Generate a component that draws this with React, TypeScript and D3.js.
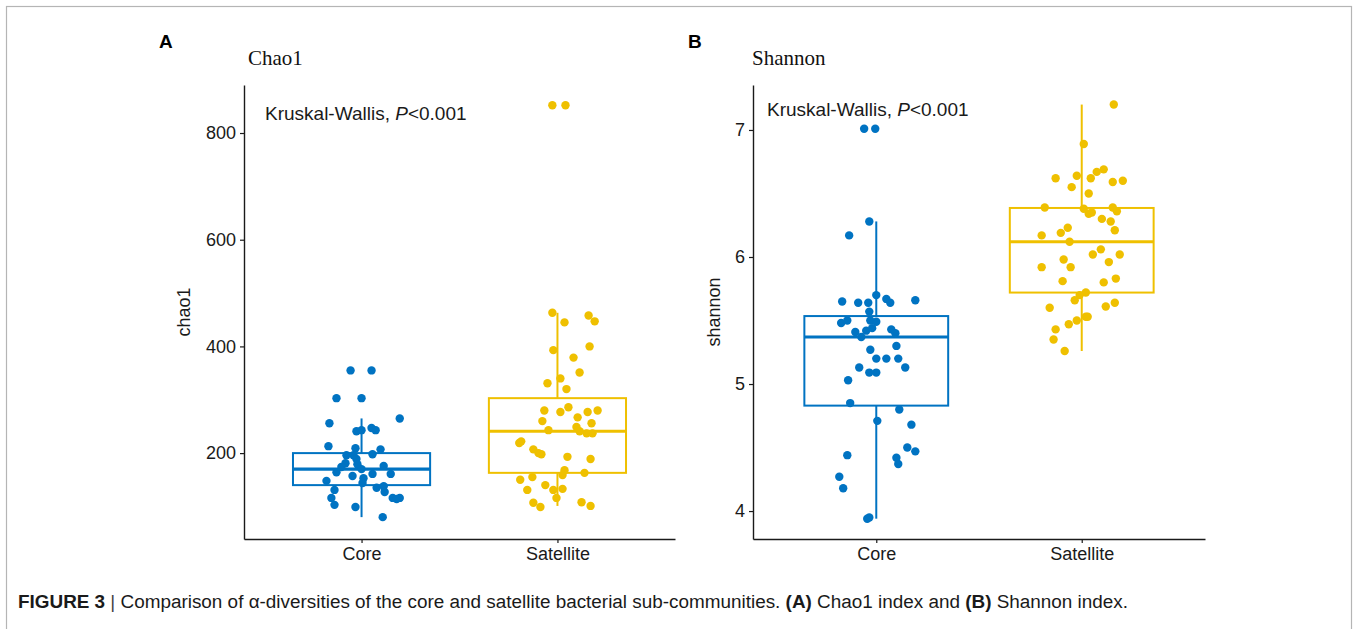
import { axisBottom, axisLeft, scaleLinear, select } from 'd3';
import { useEffect, useRef } from 'react';

const GROUPS = ['Core', 'Satellite'];
const BLUE = '#0073C2';
const YELLOW = '#EFC000';
const INK = '#1a1a1a';
const SANS = '"Liberation Sans", Arial, Helvetica, sans-serif';
const NARROW = '"Liberation Sans Narrow", "Arial Narrow", "Liberation Sans", Arial, sans-serif';
const SERIF = '"Liberation Serif", "Times New Roman", serif';

// Chao1 values, with horizontal jitter (in category units)
const chao1Core = [
  355, 355, 303, 303, 256, 265, 241, 243, 247, 243, 213, 209, 207, 196, 196, 198, 189, 181, 179, 174,
  176, 170, 164, 157, 161, 161, 153, 148, 144, 135, 138, 127, 131, 116, 116, 116, 114, 103, 99, 80,
];
const chao1CoreJitter = [
  -0.056, 0.051, -0.128, 0, -0.164, 0.195, -0.026, 0, 0.051, 0.072, -0.169, -0.031, 0.097, -0.077, -0.041,
  0.056, -0.026, -0.082, -0.021, -0.103, 0.113, 0, -0.128, -0.046, 0.056, 0.149, 0.01, -0.179, 0.005, 0.077,
  0.113, 0.118, -0.138, -0.154, 0.159, 0.195, 0.179, -0.138, -0.031, 0.108,
];
const chao1Satellite = [
  852, 852, 463, 445, 458, 447, 393, 400, 379, 351, 340, 331, 320, 280, 286, 277, 277, 280, 267, 260, 256,
  249, 243, 241, 237, 237, 222, 219, 207, 200, 198, 193, 189, 168, 159, 163, 150, 155, 140, 131, 131, 133,
  116, 107, 99, 108, 101,
];
const chao1SatelliteJitter = [
  -0.026, 0.041, -0.026, 0.036, 0.159, 0.19, -0.021, 0.164, 0.082, 0.113, 0.015, -0.051, 0.046, -0.067,
  0.056, 0.015, 0.154, 0.205, 0.103, -0.077, 0.174, 0.097, -0.046, 0.113, 0.149, 0.179, -0.185, -0.195,
  -0.123, -0.097, -0.082, 0.051, 0.169, 0.036, 0.026, 0.138, -0.19, -0.128, -0.062, -0.154, -0.021, 0.026,
  -0.005, -0.123, -0.087, 0.123, 0.169,
];

// Shannon values
const shannonCore = [
  7.01, 7.01, 6.28, 6.17, 5.65, 5.64, 5.64, 5.7, 5.67, 5.64, 5.66, 5.57, 5.48, 5.5, 5.5, 5.49, 5.41, 5.42,
  5.44, 5.43, 5.4, 5.37, 5.3, 5.27, 5.2, 5.2, 5.2, 5.13, 5.13, 5.09, 5.09, 5.03, 4.85, 4.8, 4.71, 4.68, 4.5,
  4.47, 4.44, 4.42, 4.37, 4.27, 4.18, 3.94, 3.95,
];
const shannonCoreJitter = [
  -0.059, -0.005, -0.034, -0.132, -0.166, -0.088, -0.039, 0, 0.049, 0.068, 0.19, -0.034, -0.171, -0.141,
  -0.029, 0, -0.102, -0.049, -0.02, 0.073, 0.093, -0.073, 0.098, -0.029, 0, 0.049, 0.107, -0.083, 0.141,
  -0.034, 0, -0.137, -0.127, 0.112, 0.005, 0.171, 0.151, 0.19, -0.141, 0.098, 0.107, -0.18, -0.161, -0.044,
  -0.034,
];
const shannonSatellite = [
  7.2, 6.89, 6.62, 6.64, 6.67, 6.69, 6.62, 6.59, 6.6, 6.55, 6.5, 6.39, 6.38, 6.39, 6.36, 6.34, 6.35, 6.3,
  6.28, 6.23, 6.19, 6.21, 6.17, 6.12, 6.06, 6.02, 6.02, 5.98, 5.96, 5.92, 5.92, 5.81, 5.8, 5.83, 5.7, 5.72,
  5.66, 5.6, 5.61, 5.64, 5.53, 5.53, 5.5, 5.47, 5.43, 5.35, 5.26,
];
const shannonSatelliteJitter = [
  0.156, 0.01, -0.127, -0.024, 0.073, 0.107, 0.044, 0.151, 0.2, -0.049, 0.034, -0.18, 0.01, 0.151, 0.171,
  0.034, 0.049, 0.098, 0.141, -0.068, -0.102, 0.161, -0.195, -0.059, 0.093, 0.054, 0.185, -0.088, 0.132,
  -0.195, -0.054, -0.093, 0.107, 0.166, -0.01, 0.02, -0.034, -0.156, 0.117, 0.161, 0.02, 0.029, -0.024,
  -0.063, -0.127, -0.137, -0.083,
];

// box statistics: lower whisker, Q1, median, Q3, upper whisker
const chao1CoreBox = [80, 140, 170, 200, 265];
const chao1SatelliteBox = [101, 163, 241, 303, 463];
const shannonCoreBox = [3.94, 4.83, 5.37, 5.535, 6.28];
const shannonSatelliteBox = [5.26, 5.72, 6.12, 6.386, 7.2];

const chao1Ticks = [200, 400, 600, 800];
const shannonTicks = [4, 5, 6, 7];

type Series = { values: number[]; jitter: number[]; box: number[]; color: string };

type PanelProps = {
  letter: string;
  letterX: number;
  title: string;
  titleX: number;
  yLabel: string;
  yLabelX: number;
  yDomain: [number, number];
  yTicks: number[];
  left: number;
  right: number;
  testX: number;
  testY: number;
  series: Series[];
};

const TOP = 85;
const BOTTOM = 539;
const BOX_HALF = 0.35;

function Panel({
  letter, letterX, title, titleX, yLabel, yLabelX, yDomain, yTicks, left, right, testX, testY, series,
}: PanelProps) {
  const xAxisRef = useRef<SVGGElement | null>(null);
  const yAxisRef = useRef<SVGGElement | null>(null);

  const x = scaleLinear().domain([0.4, 2.6]).range([left, right]);
  const y = scaleLinear().domain(yDomain).range([BOTTOM, TOP]);

  useEffect(() => {
    if (!xAxisRef.current || !yAxisRef.current) return;
    const style = (g: any) => {
      g.select('.domain').attr('stroke', INK).attr('stroke-width', 1.4);
      g.selectAll('.tick line').attr('stroke', INK).attr('stroke-width', 1.2);
      g.selectAll('text').attr('fill', INK).attr('font-size', 18).attr('font-family', SANS);
    };
    select(xAxisRef.current)
      .call(
        axisBottom(x)
          .tickValues([1, 2])
          .tickFormat((d: any) => GROUPS[Number(d) - 1])
          .tickSize(4)
          .tickSizeOuter(0)
          .tickPadding(4),
      )
      .call(style);
    select(yAxisRef.current)
      .call(
        axisLeft(y)
          .tickValues(yTicks)
          .tickFormat((d: any) => String(d))
          .tickSize(4)
          .tickSizeOuter(0)
          .tickPadding(4),
      )
      .call(style);
  }, [x, y, yTicks]);

  return (
    <g>
      <text x={letterX} y={48} fontFamily={SANS} fontWeight="bold" fontSize={19} fill="#000">
        {letter}
      </text>
      <text x={titleX} y={65} fontFamily={SERIF} fontSize={21} fill="#111">
        {title}
      </text>

      {series.map((s, i) => {
        const cx = x(i + 1);
        const [lo, q1, med, q3, hi] = s.box;
        return (
          <g key={`box-${i}`} stroke={s.color} fill="none">
            <line x1={cx} x2={cx} y1={y(q3)} y2={y(hi)} strokeWidth={2} />
            <line x1={cx} x2={cx} y1={y(q1)} y2={y(lo)} strokeWidth={2} />
            <rect
              x={x(i + 1 - BOX_HALF)}
              y={y(q3)}
              width={x(i + 1 + BOX_HALF) - x(i + 1 - BOX_HALF)}
              height={y(q1) - y(q3)}
              fill="#fff"
              strokeWidth={2}
            />
            <line x1={x(i + 1 - BOX_HALF)} x2={x(i + 1 + BOX_HALF)} y1={y(med)} y2={y(med)} strokeWidth={3.2} />
          </g>
        );
      })}

      {series.map((s, i) => (
        <g key={`pts-${i}`} fill={s.color}>
          {s.values.map((v, j) => (
            <circle key={j} cx={x(i + 1 + s.jitter[j])} cy={y(v)} r={4.2} />
          ))}
        </g>
      ))}

      <g ref={xAxisRef} transform={`translate(0,${BOTTOM})`} />
      <g ref={yAxisRef} transform={`translate(${left},0)`} />

      <text
        fontFamily={SANS}
        fontSize={18}
        fill={INK}
        textAnchor="middle"
        transform={`translate(${yLabelX},${(TOP + BOTTOM) / 2}) rotate(-90)`}
      >
        {yLabel}
      </text>
      <text x={testX} y={testY} fontFamily={SANS} fontSize={19} fill={INK}>
        Kruskal-Wallis, <tspan fontStyle="italic">P</tspan>&lt;0.001
      </text>
    </g>
  );
}

export default function App() {
  return (
    <svg
      width={1357}
      height={629}
      viewBox="0 0 1357 629"
      style={{ position: 'absolute', left: 0, top: 0, background: '#fff' }}
    >
      <rect x={6.5} y={6.5} width={1345} height={700} fill="#fff" stroke="#b5b5b5" strokeWidth={1.2} />
      <Panel
        letter="A"
        letterX={159}
        title="Chao1"
        titleX={248}
        yLabel="chao1"
        yLabelX={190}
        yDomain={[39, 890]}
        yTicks={chao1Ticks}
        left={244}
        right={675}
        testX={265}
        testY={120}
        series={[
          { values: chao1Core, jitter: chao1CoreJitter, box: chao1CoreBox, color: BLUE },
          { values: chao1Satellite, jitter: chao1SatelliteJitter, box: chao1SatelliteBox, color: YELLOW },
        ]}
      />
      <Panel
        letter="B"
        letterX={688}
        title="Shannon"
        titleX={752}
        yLabel="shannon"
        yLabelX={720}
        yDomain={[3.78, 7.354]}
        yTicks={shannonTicks}
        left={753}
        right={1205}
        testX={767}
        testY={116}
        series={[
          { values: shannonCore, jitter: shannonCoreJitter, box: shannonCoreBox, color: BLUE },
          { values: shannonSatellite, jitter: shannonSatelliteJitter, box: shannonSatelliteBox, color: YELLOW },
        ]}
      />
      <text
        x={18}
        y={608}
        fontFamily={NARROW}
        fontSize={18}
        fill="#1a1a1a"
        textLength={1110}
        lengthAdjust="spacingAndGlyphs"
      >
        <tspan fontWeight="bold">FIGURE 3</tspan>
        <tspan fill="#444"> | </tspan>
        Comparison of α-diversities of the core and satellite bacterial sub-communities.{' '}
        <tspan fontWeight="bold">(A)</tspan> Chao1 index and <tspan fontWeight="bold">(B)</tspan> Shannon index.
      </text>
    </svg>
  );
}
